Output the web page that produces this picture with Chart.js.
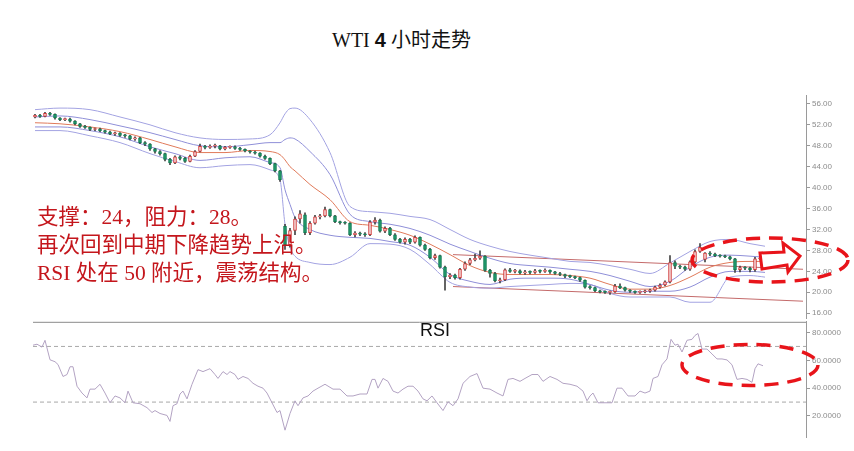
<!DOCTYPE html>
<html>
<head>
<meta charset="utf-8">
<title>WTI 4小时走势</title>
<script src="https://cdn.jsdelivr.net/npm/chart.js@4.4.1/dist/chart.umd.min.js"></script>
<style>
  html, body { margin: 0; padding: 0; background: #fff; }
  #stage { position: relative; width: 854px; height: 451px; overflow: hidden; }
  #priceChart { position: absolute; left: 0; top: 80px; }
  #rsiChart { position: absolute; left: 0; top: 315px; }
  .title { position: absolute; left: 332px; top: 24px; font-family: "Liberation Serif", "Noto Sans CJK SC", serif; font-size: 20px; color: #111; white-space: nowrap; }
  .title b { font-family: "Liberation Sans", Arial, sans-serif; }
  .note { position: absolute; left: 37px; top: 203px; font-family: "Liberation Serif", "Noto Sans CJK SC", serif; font-size: 21.5px; line-height: 28px; color: #c4161c; white-space: nowrap; }
  .rsi-label { position: absolute; left: 420px; top: 320px; font-family: "Liberation Sans", Arial, sans-serif; font-size: 18px; color: #111; }
  svg.marks { position: absolute; left: 0; top: 0; pointer-events: none; }
</style>
</head>
<body>
<div id="stage">
  <div class="title">WTI <b>4</b> 小时走势</div>
  <canvas id="priceChart" width="854" height="245"></canvas>
  <canvas id="rsiChart" width="854" height="136"></canvas>
  <div class="note">支撑：24，阻力：28。<br>再次回到中期下降趋势上沿。<br>RSI 处在 50 附近，震荡结构。</div>
  <div class="rsi-label">RSI</div>
  <svg class="marks" width="854" height="451">
    <ellipse cx="770" cy="260" rx="78" ry="22" fill="none" stroke="#e8141a" stroke-width="3.5" stroke-dasharray="14 9"/>
    <polygon points="760,253 784,252 783,243 800,256 788,272 787,265 762,269" fill="#fff" stroke="#e8141a" stroke-width="3" stroke-linejoin="miter"/>
    <ellipse cx="750" cy="365" rx="68" ry="20.5" fill="none" stroke="#e8141a" stroke-width="3.5" stroke-dasharray="14 9"/>
  </svg>
</div>
<script>
// 4h candles, index 0..145
const candleOpen = [
  53.5, 53.8, 53.6, 54.2, 54.0, 53.3, 53.0, 53.1, 52.7, 52.2,
  51.7, 51.5, 51.1, 51.2, 50.9, 50.6, 50.3, 50.4, 50.0, 49.9,
  49.3, 49.5, 48.6, 48.3, 47.4, 46.9, 46.5, 45.4, 44.7, 45.9,
  45.6, 45.0, 46.0, 46.9, 47.9, 47.7, 47.9, 48.0, 47.4, 47.7,
  47.8, 47.5, 47.3, 47.0, 46.8, 46.6, 46.0, 45.6, 44.6, 43.2,
  32.6, 29.1, 31.8, 34.0, 34.8, 31.4, 33.2, 34.4, 34.6, 35.8,
  34.6, 33.5, 33.3, 33.2, 31.0, 31.3, 31.1, 31.0, 33.4, 33.8,
  31.7, 32.2, 31.0, 30.1, 29.6, 30.1, 29.6, 30.5, 29.0, 28.2,
  26.6, 27.0, 24.8, 23.0, 23.3, 22.8, 24.4, 25.5, 26.2, 26.5,
  26.9, 24.2, 23.6, 22.2, 22.4, 24.3, 24.0, 24.1, 23.7, 23.9,
  23.8, 24.1, 24.0, 24.2, 23.9, 23.6, 23.4, 23.1, 23.0, 22.8,
  22.3, 21.0, 20.9, 20.3, 20.1, 20.0, 20.1, 21.2, 20.9, 20.4,
  20.2, 20.0, 20.1, 20.2, 20.4, 21.0, 21.4, 22.0, 25.7, 25.0,
  24.8, 24.4, 25.8, 27.8, 26.3, 27.5, 27.3, 27.0, 26.9, 26.8,
  26.4, 24.3, 24.7, 24.6, 24.3, 26.4
];
const candleClose = [
  53.8, 53.6, 54.2, 54.0, 53.3, 53.0, 53.1, 52.7, 52.2, 51.7,
  51.5, 51.1, 51.2, 50.9, 50.6, 50.3, 50.4, 50.0, 49.9, 49.3,
  49.5, 48.6, 48.3, 47.4, 46.9, 46.5, 45.4, 44.7, 45.9, 45.6,
  45.0, 46.0, 46.9, 47.9, 47.7, 47.9, 48.0, 47.4, 47.7, 47.8,
  47.5, 47.3, 47.0, 46.8, 46.6, 46.0, 45.6, 44.6, 43.2, 41.5,
  29.1, 31.8, 34.0, 35.0, 31.4, 33.2, 34.4, 34.6, 35.8, 34.6,
  33.5, 33.3, 33.2, 31.0, 31.3, 31.1, 31.0, 33.4, 33.8, 31.7,
  32.2, 31.0, 30.1, 29.6, 30.1, 29.6, 30.5, 29.0, 28.2, 26.6,
  27.0, 24.8, 23.0, 23.3, 22.8, 24.4, 25.5, 26.2, 26.5, 26.9,
  24.2, 23.6, 22.2, 22.4, 24.3, 24.0, 24.1, 23.7, 23.9, 23.8,
  24.1, 24.0, 24.2, 23.9, 23.6, 23.4, 23.1, 23.0, 22.8, 22.3,
  21.0, 20.9, 20.3, 20.1, 20.0, 20.1, 21.2, 20.9, 20.4, 20.2,
  20.0, 20.1, 20.2, 20.4, 21.0, 21.4, 22.0, 25.7, 25.0, 24.8,
  24.4, 25.8, 27.8, 28.6, 27.5, 27.3, 27.0, 26.9, 26.8, 26.4,
  24.3, 24.7, 24.6, 24.3, 26.4, 26.5
];
const candleHigh = [
  54.0, 54.0, 54.4, 54.4, 54.1, 53.4, 53.3, 53.3, 52.8, 52.3,
  51.9, 51.6, 51.4, 51.4, 51.0, 50.8, 50.6, 50.5, 50.2, 50.0,
  49.7, 49.6, 48.8, 48.4, 47.5, 47.1, 46.6, 45.6, 46.1, 46.1,
  45.8, 46.2, 47.1, 48.3, 48.1, 48.2, 48.3, 48.1, 47.9, 48.0,
  48.0, 47.7, 47.4, 47.1, 47.0, 46.7, 46.2, 45.7, 44.7, 43.3,
  33.0, 32.2, 34.4, 35.6, 35.2, 33.5, 34.7, 34.9, 36.3, 35.9,
  34.7, 33.6, 33.5, 33.3, 31.6, 31.5, 31.4, 33.7, 34.3, 34.0,
  32.5, 32.4, 31.2, 30.3, 30.4, 30.3, 30.8, 30.6, 29.2, 28.4,
  27.3, 27.1, 25.0, 23.6, 23.5, 24.6, 25.8, 26.5, 27.3, 27.9,
  27.0, 24.4, 23.8, 22.7, 24.5, 24.6, 24.4, 24.3, 24.2, 24.1,
  24.4, 24.3, 24.5, 24.3, 24.0, 23.8, 23.5, 23.3, 23.1, 22.9,
  22.4, 21.3, 21.0, 20.4, 20.3, 20.3, 21.5, 21.6, 21.0, 20.5,
  20.3, 20.3, 20.4, 20.6, 21.2, 21.6, 22.2, 27.0, 26.0, 25.2,
  25.0, 26.0, 28.1, 29.3, 27.6, 27.8, 27.5, 27.2, 27.1, 26.9,
  26.5, 25.0, 24.9, 24.8, 26.7, 26.8
];
const candleLow = [
  53.3, 53.4, 53.5, 53.8, 53.1, 52.8, 52.8, 52.5, 52.0, 51.5,
  51.3, 50.9, 50.9, 50.7, 50.4, 50.1, 50.0, 49.8, 49.6, 49.1,
  49.0, 48.4, 48.0, 47.1, 46.6, 46.2, 45.1, 44.4, 44.6, 45.3,
  44.8, 44.9, 45.9, 46.8, 47.4, 47.5, 47.6, 47.2, 47.2, 47.5,
  47.3, 47.1, 46.8, 46.6, 46.4, 45.8, 45.4, 44.4, 43.0, 41.2,
  28.2, 28.6, 31.0, 33.2, 31.0, 31.0, 33.0, 34.0, 34.4, 34.4,
  33.3, 33.0, 33.0, 30.8, 30.6, 30.8, 30.7, 30.8, 33.0, 31.5,
  31.4, 30.8, 29.9, 29.4, 29.2, 29.3, 29.4, 28.8, 28.0, 26.4,
  26.3, 24.6, 20.4, 22.6, 22.5, 22.5, 24.2, 25.3, 26.0, 26.3,
  24.0, 22.9, 22.0, 21.8, 22.2, 23.8, 23.7, 23.5, 23.4, 23.5,
  23.6, 23.7, 23.8, 23.6, 23.4, 23.2, 22.8, 22.8, 22.6, 22.1,
  20.8, 20.6, 20.1, 19.9, 19.8, 19.6, 20.0, 20.7, 20.2, 20.0,
  19.8, 19.8, 19.9, 20.0, 20.2, 20.8, 21.2, 21.8, 24.5, 24.5,
  24.2, 24.2, 25.6, 27.6, 25.8, 27.0, 26.8, 26.7, 26.6, 26.2,
  23.8, 23.9, 24.3, 23.9, 24.0, 26.2
];

// Bollinger lines at these candle positions
const bandX = [0, 5, 11, 17, 23, 28, 33, 38, 43, 47, 49, 50, 51, 52, 55, 59, 63, 67, 71, 75, 79, 83, 87, 91, 95, 99, 103, 107, 111, 115, 119, 123, 127, 131, 135, 139, 143, 146];
const bbUpperOuter = [54.9, 55.2, 54.9, 53.5, 52.0, 50.5, 49.5, 49.2, 49.3, 50.1, 52.4, 54.1, 55.1, 55.2, 53.0, 46.7, 36.4, 35.4, 35.1, 34.5, 33.9, 32.0, 30.1, 28.8, 27.8, 27.1, 26.5, 25.9, 25.7, 25.1, 24.4, 23.6, 25.6, 27.8, 29.7, 30.1, 29.3, 28.8];
const bbUpperInner = [53.5, 53.7, 53.0, 51.8, 50.5, 49.2, 48.0, 47.8, 48.2, 48.6, 48.6, 49.2, 49.5, 49.3, 46.9, 42.5, 34.9, 33.5, 33.0, 32.2, 30.9, 29.2, 27.8, 26.5, 25.5, 25.1, 24.8, 24.4, 24.0, 23.2, 22.1, 21.1, 22.1, 24.8, 26.7, 27.1, 26.9, 26.7];
const bbMiddle = [52.4, 52.2, 51.6, 50.7, 49.2, 47.8, 46.7, 46.7, 47.1, 46.9, 46.3, 45.3, 44.0, 43.2, 40.6, 37.7, 33.5, 32.8, 32.0, 30.9, 29.2, 27.2, 25.1, 23.8, 23.4, 23.4, 23.4, 23.2, 22.7, 21.5, 20.6, 20.6, 21.3, 22.9, 24.8, 25.7, 25.9, 25.9];
const bbLowerInner = [51.6, 51.6, 50.9, 49.7, 47.8, 46.5, 45.2, 45.7, 45.9, 44.8, 43.8, 39.6, 36.8, 34.3, 32.0, 30.9, 30.5, 30.3, 29.7, 29.0, 26.7, 23.4, 22.1, 21.5, 22.5, 22.7, 22.7, 22.5, 21.5, 20.4, 20.0, 20.2, 20.2, 21.0, 22.9, 24.0, 24.0, 23.8];
const bbLowerOuter = [50.9, 50.9, 49.9, 48.6, 46.5, 45.0, 43.8, 44.2, 44.4, 43.4, 41.5, 33.0, 28.6, 26.9, 25.7, 25.3, 26.7, 29.3, 29.2, 28.2, 25.3, 21.9, 21.0, 20.8, 21.1, 21.3, 21.5, 21.7, 21.5, 19.8, 19.1, 19.1, 19.1, 18.1, 18.1, 22.9, 23.2, 22.9];

// channel lines
const trendX = [83.6, 153.6];
const trendUpper = [27.2, 24.4];
const trendLower = [21.1, 18.3];

const priceTicks = [16, 20, 24, 28, 32, 36, 40, 44, 48, 52, 56];

// RSI
const rsiX = [
  -0.4, 0.4, 1.4, 2, 3, 4, 4.6, 5.6, 6.4, 7, 7.6, 8.4, 9.4, 10.4, 11, 12, 13, 14, 15, 16,
  17, 18, 18.6, 19.6, 21, 22.4, 23.4, 24, 25, 26.4, 27, 27.6, 28.4, 29, 29.6, 30.4, 31.4, 32.6, 33.6, 35,
  36, 36.6, 37.6, 38.4, 39, 40, 40.6, 41.6, 42.6, 43.6, 44.6, 45.6, 46.4, 47.4, 48.4, 49, 50, 51, 52, 52.6,
  53.6, 54.6, 55.6, 56.6, 58, 59.6, 61, 62.4, 63.6, 65, 66.4, 67.4, 68, 68.6, 69.6, 70.6, 71.6, 72.6, 73.6, 74.6,
  75.6, 76.6, 77.6, 78.4, 79.4, 80.4, 81.6, 82.6, 83.6, 84.6, 85.6, 87, 88.4, 89.6, 91, 92.4, 93.6, 94.6, 95.6, 97,
  98, 99.4, 100.6, 101.6, 103, 104.4, 105.6, 107, 108.4, 109.6, 110.4, 111, 111.6, 112.6, 114, 115.4, 116.4, 117.4, 118.6, 120,
  121, 122, 123, 123.6, 124.6, 125.4, 126.4, 127.2, 128, 128.6, 129.4, 130.4, 131.4, 132, 132.6, 133.4, 134.4, 135.4, 136.4, 137.4,
  138.4, 139.4, 140.4, 141.4, 142.4, 143.4, 144, 144.6, 145.6
];
const rsiValues = [
  70.9, 71.6, 69.5, 74.4, 60.4, 59.0, 57.0, 48.4, 49.8, 55.4, 55.4, 41.4, 36.5, 33.0, 39.3, 39.3, 42.8, 36.5, 29.5, 34.4,
  33.0, 29.5, 37.9, 29.5, 28.8, 26.0, 22.5, 23.9, 21.8, 20.4, 16.1, 27.4, 28.8, 35.8, 37.9, 32.3, 42.8, 53.3, 51.9, 54.0,
  49.8, 47.0, 51.9, 49.8, 51.9, 49.8, 46.3, 48.4, 47.0, 43.5, 41.4, 40.0, 36.5, 29.5, 22.5, 23.9, 9.8, 21.8, 30.9, 27.4,
  33.0, 34.4, 37.9, 40.0, 42.8, 39.3, 39.3, 34.4, 34.4, 35.8, 35.8, 46.3, 46.3, 40.0, 47.0, 44.9, 37.9, 36.5, 39.3, 41.4,
  41.4, 37.9, 32.3, 30.9, 34.4, 29.5, 23.9, 30.2, 27.4, 32.3, 43.5, 48.4, 50.5, 40.0, 39.3, 36.5, 34.4, 46.3, 47.0, 44.9,
  47.0, 49.8, 49.8, 44.9, 48.4, 46.3, 43.5, 42.8, 41.4, 37.9, 30.9, 34.4, 36.5, 29.5, 29.5, 29.5, 40.0, 40.0, 34.4, 34.4,
  37.9, 36.5, 37.9, 47.0, 48.4, 56.8, 61.0, 75.1, 70.9, 71.6, 66.0, 74.4, 75.1, 77.9, 79.3, 68.1, 68.1, 64.6, 61.0, 61.0,
  60.3, 56.8, 46.3, 47.0, 46.3, 44.2, 54.0, 57.5, 56.1
];
const rsiLevels = [70, 30];
const rsiTicks = [20, 40, 60, 80];

document.addEventListener('DOMContentLoaded', function () {
  const xMin = -0.4;
  const xMax = 154.2;
  const upColor = '#f6cfcf';
  const upBorder = '#d03a3a';
  const downColor = '#1f9b6b';
  const downBorder = '#137a52';

  function points(xs, ys) {
    return xs.map(function (x, i) { return { x: x, y: ys[i] }; });
  }

  function bandLine(values, color) {
    return {
      type: 'line',
      data: points(bandX, values),
      borderColor: color,
      borderWidth: 1,
      pointRadius: 0,
      cubicInterpolationMode: 'monotone',
      order: 5
    };
  }

  const wicks = candleOpen.map(function (o, i) { return { x: i, y: [candleLow[i], candleHigh[i]] }; });
  const bodies = candleOpen.map(function (o, i) { return { x: i, y: [o, candleClose[i]] }; });
  const isUp = candleOpen.map(function (o, i) { return candleClose[i] >= o; });

  function rightAxis(ticks, digits) {
    return {
      position: 'right',
      afterFit: function (scale) { scale.width = 48; },
      afterBuildTicks: function (scale) {
        scale.ticks = ticks.map(function (v) { return { value: v }; });
      },
      grid: { drawOnChartArea: false, tickLength: 4, color: '#9a9a9a' },
      border: { display: true, color: '#9a9a9a' },
      ticks: {
        font: { size: 8, family: 'Liberation Sans' },
        color: '#8c8c8c',
        padding: 2,
        callback: function (v) { return Number(v).toFixed(digits); }
      }
    };
  }

  const priceAxis = rightAxis(priceTicks, 2);
  priceAxis.min = 15.05;
  priceAxis.max = 57.7;

  new Chart(document.getElementById('priceChart'), {
    type: 'line',
    data: {
      datasets: [
        bandLine(bbUpperOuter, '#a3a3e2'),
        bandLine(bbUpperInner, '#8f8fd8'),
        bandLine(bbMiddle, '#e07a5a'),
        bandLine(bbLowerInner, '#8f8fd8'),
        bandLine(bbLowerOuter, '#a3a3e2'),
        { type: 'line', data: points(trendX, trendUpper), borderColor: '#c46a6a', borderWidth: 1, pointRadius: 0, order: 6 },
        { type: 'line', data: points(trendX, trendLower), borderColor: '#c46a6a', borderWidth: 1, pointRadius: 0, order: 6 },
        { type: 'bar', data: wicks, barThickness: 1, backgroundColor: '#444', grouped: false, order: 2 },
        {
          type: 'bar',
          data: bodies,
          barThickness: 3,
          backgroundColor: isUp.map(function (u) { return u ? upColor : downColor; }),
          borderColor: isUp.map(function (u) { return u ? upBorder : downBorder; }),
          borderWidth: 1,
          borderSkipped: false,
          minBarLength: 1,
          grouped: false,
          order: 1
        }
      ]
    },
    options: {
      responsive: false,
      animation: false,
      layout: { padding: { left: 33, top: 15, right: 0, bottom: 6 } },
      plugins: { legend: { display: false }, tooltip: { enabled: false } },
      scales: {
        x: { type: 'linear', display: false, min: xMin, max: xMax, offset: false },
        y: priceAxis
      }
    }
  });

  // grey rule between price and RSI panes
  const topRule = {
    id: 'topRule',
    afterDraw: function (chart) {
      const area = chart.chartArea;
      const ctx = chart.ctx;
      ctx.save();
      ctx.strokeStyle = '#8a8a8a';
      ctx.lineWidth = 1;
      ctx.beginPath();
      ctx.moveTo(area.left, area.top + 0.5);
      ctx.lineTo(area.right, area.top + 0.5);
      ctx.stroke();
      ctx.restore();
    }
  };

  const rsiAxis = rightAxis(rsiTicks, 4);
  rsiAxis.min = 4.9;
  rsiAxis.max = 87.7;

  const levelSets = rsiLevels.map(function (level) {
    return {
      type: 'line',
      data: [{ x: xMin, y: level }, { x: xMax, y: level }],
      borderColor: '#a8a8a8',
      borderWidth: 1,
      borderDash: [4, 3],
      pointRadius: 0,
      order: 3
    };
  });

  new Chart(document.getElementById('rsiChart'), {
    type: 'line',
    data: {
      datasets: levelSets.concat([{
        type: 'line',
        data: points(rsiX, rsiValues),
        borderColor: '#b3a3c3',
        borderWidth: 1,
        pointRadius: 0,
        order: 1
      }])
    },
    options: {
      responsive: false,
      animation: false,
      layout: { padding: { left: 33, top: 4, right: 0, bottom: 14 } },
      plugins: { legend: { display: false }, tooltip: { enabled: false } },
      scales: {
        x: { type: 'linear', display: false, min: xMin, max: xMax },
        y: rsiAxis
      }
    },
    plugins: [topRule]
  });
});
</script>
</body>
</html>
